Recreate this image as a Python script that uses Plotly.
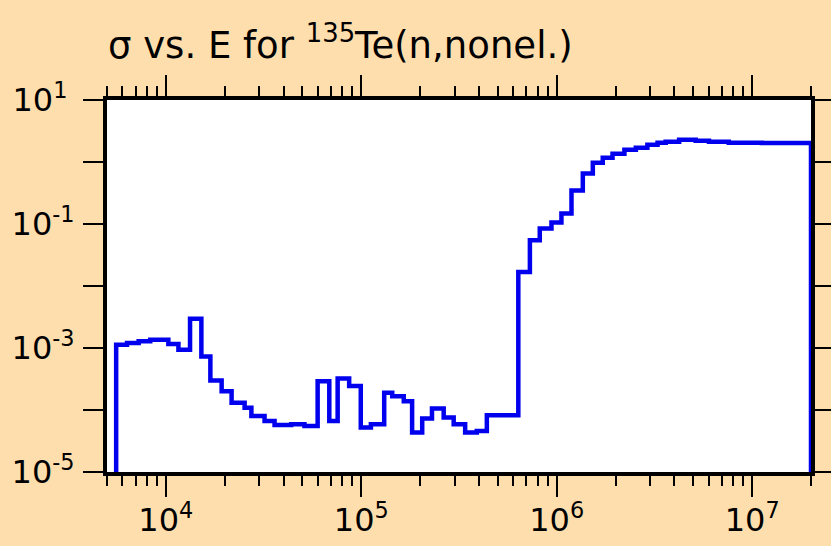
import plotly.graph_objects as go

# Group boundaries (eV) of the tabulated nonelastic cross section
energy_edges = [
    5.57e3, 6.33e3, 7.26e3, 8.32e3, 1.03e4, 1.16e4, 1.33e4, 1.52e4, 1.69e4, 1.93e4,
    2.17e4, 2.53e4, 2.74e4, 3.20e4, 3.60e4, 4.38e4, 5.12e4, 5.98e4, 6.86e4, 7.57e4,
    8.67e4, 9.94e4, 1.12e5, 1.31e5, 1.44e5, 1.65e5, 1.82e5, 2.05e5, 2.30e5, 2.64e5,
    2.97e5, 3.40e5, 3.90e5, 4.39e5, 6.36e5,
    7.29e5, 8.19e5, 9.40e5, 1.057e6, 1.19e6, 1.36e6, 1.53e6, 1.72e6, 1.93e6, 2.22e6,
    2.54e6, 2.91e6, 3.28e6, 3.61e6, 4.23e6, 5.14e6, 6.01e6, 7.59e6, 1.12e7, 2.0e7,
]

# Cross section (b) in each group
sigma = [
    1.13e-3, 1.20e-3, 1.28e-3, 1.36e-3, 1.16e-3, 9.4e-4, 2.95e-3, 7.3e-4, 2.99e-4, 2.01e-4,
    1.31e-4, 1.09e-4, 8.0e-5, 6.65e-5, 5.74e-5, 5.89e-5, 5.53e-5, 2.92e-4, 6.65e-5, 3.22e-4,
    2.43e-4, 5.21e-5, 5.89e-5, 1.90e-4, 1.67e-4, 1.39e-4, 4.33e-5, 7.26e-5, 1.06e-4, 7.54e-5,
    5.89e-5, 4.33e-5, 4.59e-5, 8.2e-5,
    1.68e-2, 5.47e-2, 8.5e-2, 0.106, 0.148, 0.347, 0.65, 0.975, 1.17, 1.36,
    1.58, 1.70, 1.90, 2.04, 2.12, 2.28, 2.20, 2.12, 2.04, 2.02,
]

sigma_floor = 1e-5

x_major = [1e4, 1e5, 1e6, 1e7]
x_major_text = ["10<sup>4</sup>", "10<sup>5</sup>", "10<sup>6</sup>", "10<sup>7</sup>"]
x_minor = ([m * 1e3 for m in range(5, 10)] + [m * 1e4 for m in range(2, 10)]
           + [m * 1e5 for m in range(2, 10)] + [m * 1e6 for m in range(2, 10)] + [2e7])

y_major = [1e-5, 1e-4, 1e-3, 1e-2, 1e-1, 1e0, 1e1]
y_major_text = ["10<sup>-5</sup>", "", "10<sup>-3</sup>", "", "10<sup>-1</sup>", "",
                "10<sup>1&nbsp;</sup>"]

# histogram outline: rise from the floor, step through the groups, fall back
step_x = [energy_edges[0]] + energy_edges[:-1] + [energy_edges[-1], energy_edges[-1]]
step_y = [sigma_floor] + sigma + [sigma[-1], sigma_floor]

fig = go.Figure()
fig.add_trace(go.Scatter(
    x=step_x, y=step_y, mode="lines", line_shape="hv",
    line=dict(color="#0000EE", width=4.5), showlegend=False,
))

tick_font = dict(family="DejaVu Sans", size=32, color="black")
title_font = dict(family="DejaVu Sans", size=37, color="black")

fig.update_layout(
    width=831, height=546,
    paper_bgcolor="#FFDEAD", plot_bgcolor="white",
    margin=dict(l=107, r=20, t=100, b=74),
    font=tick_font,
    title=dict(text="σ vs. E for <sup>135</sup>Te(n,nonel.)", x=108 / 831, xanchor="left",
               xref="container", y=1 - 45 / 546, yanchor="middle", yref="container",
               font=title_font),
)

fig.update_xaxes(
    type="log", range=[3.69897, 7.30103], automargin=False,
    showline=True, linewidth=4, linecolor="black", mirror="allticks",
    showgrid=False, zeroline=False,
    tickmode="array", tickvals=x_major, ticktext=x_major_text, tickfont=tick_font,
    ticks="outside", ticklen=21, tickwidth=2, tickcolor="black",
    ticklabelstandoff=-4,
    minor=dict(tickmode="array", tickvals=x_minor, ticks="outside", ticklen=10,
               tickwidth=2, tickcolor="black", showgrid=False),
)
fig.update_yaxes(
    type="log", range=[-5, 1], automargin=False,
    showline=True, linewidth=4, linecolor="black", mirror="allticks",
    showgrid=False, zeroline=False,
    tickmode="array", tickvals=y_major, ticktext=y_major_text, tickfont=tick_font,
    ticks="outside", ticklen=20, tickwidth=2, tickcolor="black",
    ticklabelstandoff=2,
)

fig.write_html("out.html")
